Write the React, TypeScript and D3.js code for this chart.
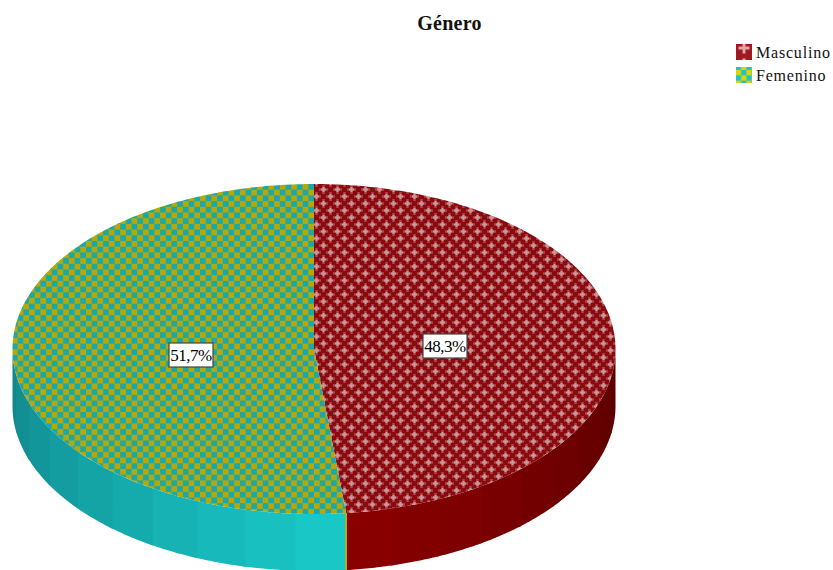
import React from "react";
import * as d3 from "d3";

// Survey split by gender
const categories = ["Masculino", "Femenino"];
const shares = [48.3, 51.7];
const labels = ["48,3%", "51,7%"];
const chartTitle = "Género";

const WIDTH = 833;
const HEIGHT = 570;
const CX = 314;
const CY = 349;
const RX = 301.5;
const RY = 165;
const DEPTH = 57;
const BAND = Math.PI / 18;
const HATCH = 14;

const FONT = "'Liberation Serif', 'Times New Roman', serif";

const px = d3.scaleLinear().domain([-1, 1]).range([CX - RX, CX + RX]);
const py = d3.scaleLinear().domain([-1, 1]).range([CY - RY, CY + RY]);

// Angles run clockwise from twelve o'clock, as in d3.pie
const rim = (a: number, drop = 0): [number, number] => [
  px(Math.sin(a)),
  py(-Math.cos(a)) + drop,
];

const line = d3.line();

const arcPoints = (a0: number, a1: number, drop = 0) => {
  const n = Math.max(2, Math.ceil(Math.abs(a1 - a0) / 0.01));
  return d3.range(n + 1).map((i) => rim(a0 + ((a1 - a0) * i) / n, drop));
};

const sliceAngles = d3.pie<number>().sort(null).value((d) => d)(shares);

// Wall shading per slice: dim at the outer edge of the ellipse, bright near the front
const wallShade = [
  d3.scaleLinear<string>().domain([Math.PI / 2, Math.PI]).range(["#5a0000", "#8f0000"]),
  d3.scaleLinear<string>().domain([Math.PI, (3 * Math.PI) / 2]).range(["#1ac6c6", "#0f8589"]),
];

const legendSwatches = ["url(#hatchRedLegend)", "url(#checkTealLegend)"];
const topFills = ["url(#hatchRed)", "url(#checkTeal)"];
const legendRows = [44, 67];
const labelAt: [number, number][] = [
  [445, 346],
  [191, 355],
];

// One plus sign of the red hatch: soft arms with a paler centre
const Plus = ({ x, y }: { x: number; y: number }) => (
  <g>
    <path d={`M${x} ${y - 4.5}v9M${x - 4.5} ${y}h9`} stroke="#a8494d" strokeWidth={2.4} fill="none" />
    <path d={`M${x} ${y - 2.5}v5M${x - 2.5} ${y}h5`} stroke="#cf9799" strokeWidth={2} fill="none" />
  </g>
);

export default function App() {
  const walls = sliceAngles.flatMap((s, i) => {
    const start = Math.max(s.startAngle, Math.PI / 2);
    const end = Math.min(s.endAngle, (3 * Math.PI) / 2);
    const count = Math.ceil((end - start) / BAND);
    return d3.range(count).map((k) => {
      const a0 = start + ((end - start) * k) / count;
      const a1 = start + ((end - start) * (k + 1)) / count;
      // Each band runs a little under its neighbour so no seam shows through
      const over = k < count - 1 ? a1 + 0.012 : a1;
      const outline = [...arcPoints(a0, over), ...arcPoints(over, a0, DEPTH)];
      return {
        key: `${i}-${k}`,
        d: line(outline) + "Z",
        fill: wallShade[i]((a0 + a1) / 2),
      };
    });
  });

  const seam = sliceAngles[0].endAngle;

  return (
    <svg
      width={WIDTH}
      height={HEIGHT}
      viewBox={`0 0 ${WIDTH} ${HEIGHT}`}
      style={{ position: "absolute", left: 0, top: 0, background: "#fff" }}
    >
      <defs>
        <pattern id="checkTeal" width={11.4} height={11.4} patternUnits="userSpaceOnUse" patternTransform="translate(314 184)">
          <rect width={11.4} height={11.4} fill="#1aa9a6" />
          <rect width={5.7} height={5.7} fill="#b6a70a" />
          <rect x={5.7} y={5.7} width={5.7} height={5.7} fill="#b6a70a" />
        </pattern>
        <pattern id="hatchRed" width={HATCH} height={HATCH} patternUnits="userSpaceOnUse" patternTransform="translate(320 186)">
          <rect width={HATCH} height={HATCH} fill="#8b0a10" />
          <Plus x={HATCH / 4} y={HATCH / 4} />
          <Plus x={(3 * HATCH) / 4} y={(3 * HATCH) / 4} />
          <Plus x={-HATCH / 4} y={(3 * HATCH) / 4} />
          <Plus x={(3 * HATCH) / 4} y={-HATCH / 4} />
          <Plus x={(5 * HATCH) / 4} y={HATCH / 4} />
          <Plus x={HATCH / 4} y={(5 * HATCH) / 4} />
        </pattern>
        <pattern id="checkTealLegend" width={10.67} height={10.67} patternUnits="userSpaceOnUse" patternTransform={`translate(736 ${legendRows[1]})`}>
          <rect width={10.67} height={10.67} fill="#1cc4cc" />
          <rect width={5.33} height={5.33} fill="#e0d400" />
          <rect x={5.33} y={5.33} width={5.33} height={5.33} fill="#e0d400" />
        </pattern>
        <pattern id="hatchRedLegend" width={16} height={16} patternUnits="userSpaceOnUse" patternTransform={`translate(736 ${legendRows[0]})`}>
          <rect width={16} height={16} fill="#a01820" />
          <path d="M8 2.5v11M2.5 8h11" stroke="#e3a5a8" strokeWidth={3} fill="none" />
        </pattern>
      </defs>

      <text x={449.5} y={30} textAnchor="middle" fontFamily={FONT} fontWeight="bold" fontSize={20} fill="#111" letterSpacing={0.3}>
        {chartTitle}
      </text>

      <g>
        {walls.map((w) => (
          <path key={w.key} d={w.d} fill={w.fill} />
        ))}
        <line
          x1={rim(seam)[0]}
          y1={rim(seam)[1]}
          x2={rim(seam)[0]}
          y2={rim(seam)[1] + DEPTH}
          stroke="#c8b400"
          strokeWidth={1.5}
        />
      </g>

      <g>
        {sliceAngles.map((s, i) => (
          <path
            key={categories[i]}
            d={line([[CX, CY], ...arcPoints(s.startAngle, s.endAngle)]) + "Z"}
            fill={topFills[i]}
          />
        ))}
      </g>

      <g>
        {labels.map((t, i) => (
          <g key={t}>
            <rect x={labelAt[i][0] - 22} y={labelAt[i][1] - 12} width={44} height={24} fill="#fff" stroke="#444" strokeWidth={1.2} />
            <text x={labelAt[i][0]} y={labelAt[i][1] + 6} textAnchor="middle" fontFamily={FONT} fontSize={17} letterSpacing={-0.5} fill="#000">
              {t}
            </text>
          </g>
        ))}
      </g>

      <g>
        {categories.map((c, i) => (
          <g key={c} transform={`translate(736 ${legendRows[i]})`}>
            <rect width={16} height={16} fill={legendSwatches[i]} />
            <text x={20} y={14} fontFamily={FONT} fontSize={16} letterSpacing={0.8} fill="#111">
              {c}
            </text>
          </g>
        ))}
      </g>
    </svg>
  );
}
